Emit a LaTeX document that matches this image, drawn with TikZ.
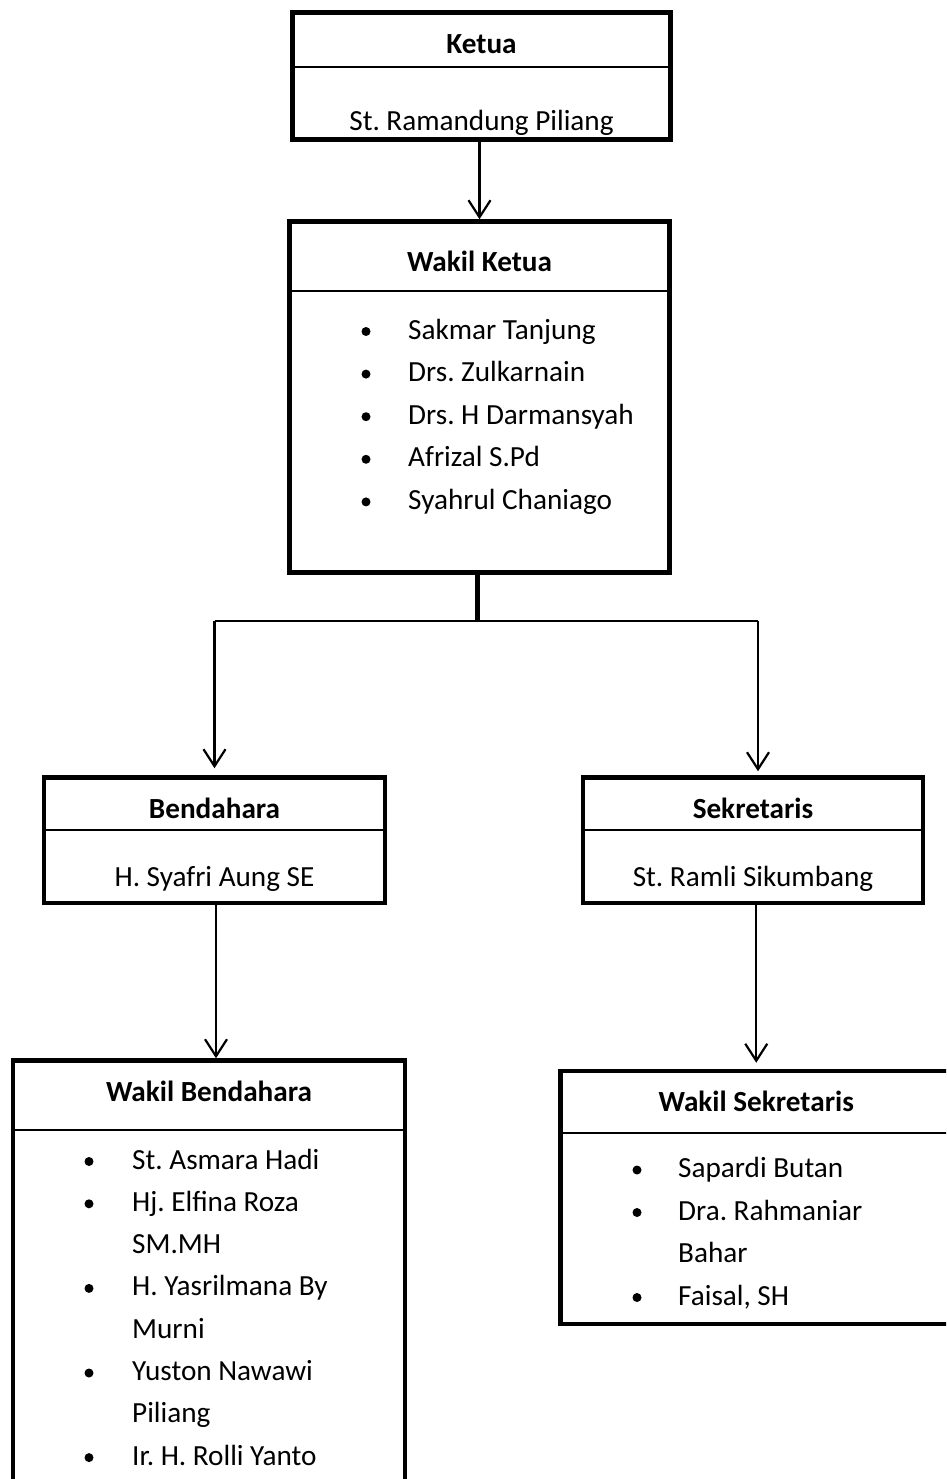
\documentclass[tikz,border=0pt]{standalone}
\usepackage{fontspec}
\setmainfont{Carlito}
\frenchspacing
\usetikzlibrary{arrows.meta}
\begin{document}
\frenchspacing
\begin{tikzpicture}[x=1pt,y=-1pt,
  box/.style={draw, line width=4.5pt, inner sep=0pt, minimum width=#1},
  divider/.style={line width=2pt},
  conn/.style={line width=2.2pt},
  arr/.style={conn, -{Straight Barb[length=17pt,width=22pt,line width=2.2pt]}},
  stem/.style={line width=4.5pt},
  txt/.style={anchor=base, inner sep=0pt, font=\fontsize{29.2}{42.5}\selectfont\frenchspacing},
  ttl/.style={txt, font=\fontsize{29.2}{42.5}\selectfont\bfseries\frenchspacing},
  itm/.style={txt, anchor=base west},
  bul/.style={fill=black}
]
\useasboundingbox (0,0) rectangle (946,1479);
\clip (0,0) rectangle (946,1479);

% Boxes
\node[box=378pt, minimum height=127pt] (ketua) at (481.5,76) {};
\node[box=380pt, minimum height=351pt] (wketua) at (479.5,397) {};
\node[box=341pt, minimum height=125.5pt] (bend) at (214.5,840.25) {};
\node[box=340pt, minimum height=125.5pt] (sek) at (753,840.25) {};
\node[box=392pt, minimum height=470pt] (wbend) at (209,1295.5) {};
\node[box=391.5pt, minimum height=253pt] (wsek) at (756.25,1197.5) {};

% Dividers
\draw[divider] (ketua.west |- 0,67) -- (ketua.east |- 0,67);
\draw[divider] (wketua.west |- 0,291) -- (wketua.east |- 0,291);
\draw[divider] (bend.west |- 0,830) -- (bend.east |- 0,830);
\draw[divider] (sek.west |- 0,830) -- (sek.east |- 0,830);
\draw[divider] (wbend.west |- 0,1130) -- (wbend.east |- 0,1130);
\draw[divider] (wsek.west |- 0,1133) -- (wsek.east |- 0,1133);

% Titles and names
\node[ttl] (tketua) at (481.5,53.5) {Ketua};
\node[txt] (nketua) at (481.5,130.5) {St. Ramandung Piliang};
\node[ttl] (twketua) at (479.5,271) {Wakil Ketua};
\node[ttl] (tbend) at (214.5,818.5) {Bendahara};
\node[txt] (nbend) at (214.5,886.5) {H. Syafri Aung SE};
\node[ttl] (tsek) at (753,818.5) {Sekretaris};
\node[txt] (nsek) at (753,886.5) {St. Ramli Sikumbang};
\node[ttl] (twbend) at (209,1101.5) {Wakil Bendahara};
\node[ttl] (twsek) at (756.25,1111.5) {Wakil Sekretaris};

% Wakil Ketua list
\node[itm] (wk1) at (408,339) {Sakmar Tanjung};
\node[itm] (wk2) at (408,381.6) {Drs. Zulkarnain};
\node[itm] (wk3) at (408,424.2) {Drs. H Darmansyah};
\node[itm] (wk4) at (408,466.8) {Afrizal S.Pd};
\node[itm] (wk5) at (408,509.4) {Syahrul Chaniago};
\foreach \y in {339,381.6,424.2,466.8,509.4} \fill[bul] (366,\y-7.5) circle (4.5pt);

% Wakil Bendahara list
\node[itm] (wb1) at (132,1169) {St. Asmara Hadi};
\node[itm] (wb2) at (132,1211.3) {Hj. Elfina Roza};
\node[itm] (wb3) at (132,1253.6) {SM.MH};
\node[itm] (wb4) at (132,1295.9) {H. Yasrilmana By};
\node[itm] (wb5) at (132,1338.2) {Murni};
\node[itm] (wb6) at (132,1380.5) {Yuston Nawawi};
\node[itm] (wb7) at (132,1422.8) {Piliang};
\node[itm] (wb8) at (132,1465.1) {Ir. H. Rolli Yanto};
\foreach \y in {1169,1211.3,1295.9,1380.5,1465.1} \fill[bul] (89,\y-7.5) circle (4.5pt);

% Wakil Sekretaris list
\node[itm] (ws1) at (678,1177.5) {Sapardi Butan};
\node[itm] (ws2) at (678,1220) {Dra. Rahmaniar};
\node[itm] (ws3) at (678,1262.5) {Bahar};
\node[itm] (ws4) at (678,1305) {Faisal, SH};
\foreach \y in {1177.5,1220,1305} \fill[bul] (637,\y-7.5) circle (4.5pt);

% Connectors
\draw[arr] (wketua.north |- ketua.south) -- (wketua.north);
\coordinate (junc) at (477.5,621);
\draw[stem] (wketua.south -| junc) -- (junc);
\draw[conn] (bend.north |- junc) -- (junc) -- (758,621);
\draw[arr] (bend.north |- junc) -- ([yshift=7pt]bend.north);
\draw[arr] (758,621) -- ([yshift=4pt]sek.north -| 758,0);
\draw[arr] (216,0 |- bend.south) -- (216,0 |- wbend.north);
\draw[arr] (wsek.north |- sek.south) -- ([yshift=6pt]wsek.north);
\end{tikzpicture}
\end{document}
